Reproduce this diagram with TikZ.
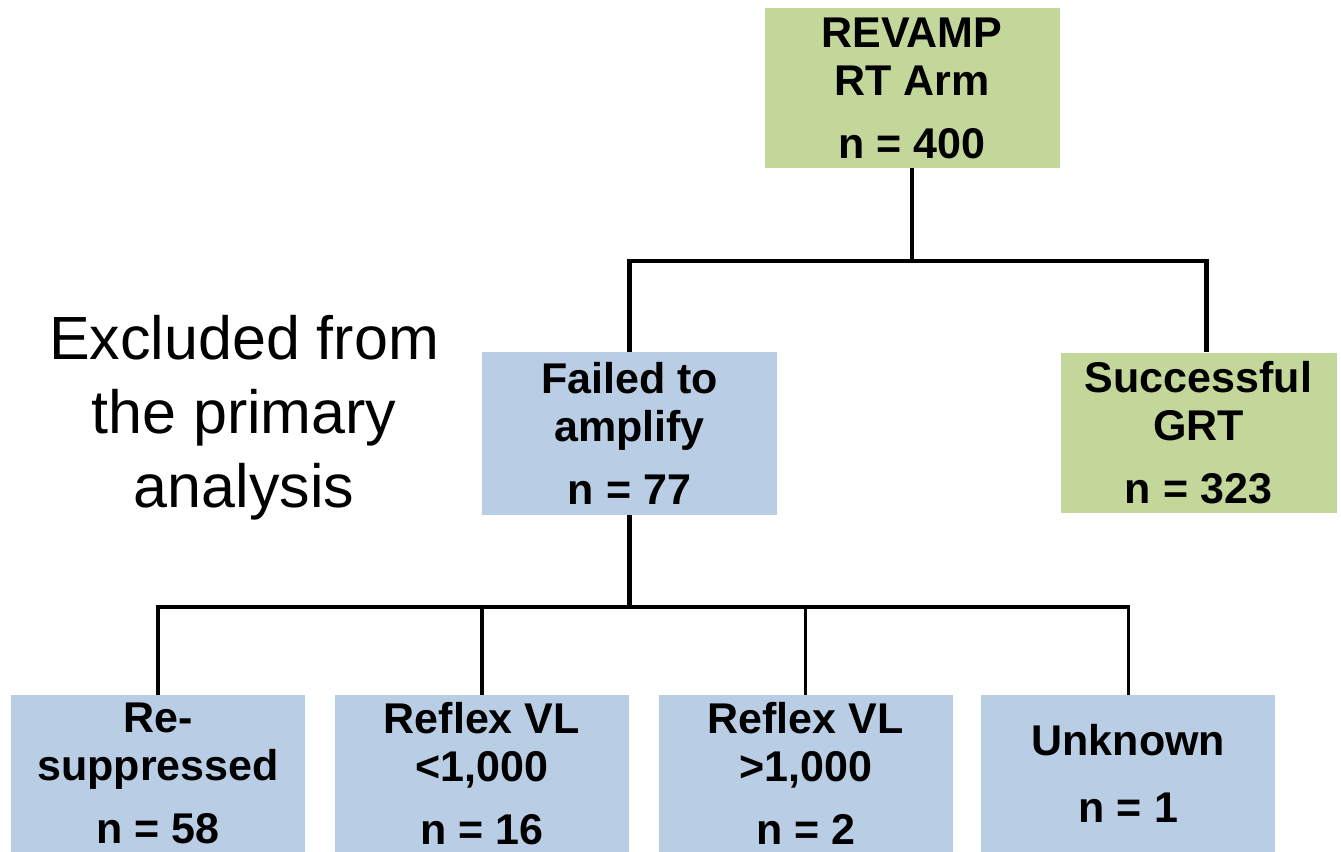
\documentclass[tikz,border=0pt]{standalone}
\usepackage{fontspec}
\setmainfont{Liberation Sans}
\usepackage{xcolor}
\usepackage{tikz}
\usetikzlibrary{positioning}
\definecolor{armGreen}{HTML}{C4D79B}
\definecolor{armBlue}{HTML}{B9CDE5}

\begin{document}
\begin{tikzpicture}[x=0.5pt, y=-0.5pt,
    box/.style={inner sep=0pt, align=center, font=\fontsize{21.5}{24}\selectfont\bfseries, minimum width=147.5pt, minimum height=80pt},
    greenbox/.style={box, fill=armGreen},
    bluebox/.style={box, fill=armBlue},
    leafbox/.style={bluebox, minimum width=147pt, minimum height=78.5pt},
    link/.style={line width=2.25pt},
    sublink/.style={line width=1.75pt}]
                \useasboundingbox (0,0) rectangle (1341,852);
                % top level
                \node[greenbox] (revamp) at (912,88) {REVAMP\\RT Arm\\[7.5pt]n = 400};
                \node[bluebox, minimum height=81.5pt] (failed) at (629.5,433.5) {Failed to\\amplify\\[7.5pt]n = 77};
                \node[greenbox, minimum width=138pt] (grt) at (1198.5,432.5) {Successful\\GRT\\[7.5pt]n = 323};
                \node[align=center, font=\fontsize{30.5}{37}\selectfont] (excluded) at (244,418) {Excluded from\\the primary\\analysis};
                % outcomes of the failed samples
                \node[leafbox] (resup) at (158,773.5) {Re-\\suppressed\\[7.5pt]n = 58};
                \node[leafbox, right=14.5pt of resup] (lowvl) {Reflex VL\\<1,000\\[7.5pt]n = 16};
                \node[leafbox, right=14.5pt of lowvl] (highvl) {Reflex VL\\>1,000\\[7.5pt]n = 2};
                \node[leafbox, right=14pt of highvl] (unknown) {Unknown\\[9.5pt]n = 1};
                % tree lines
                \coordinate (split) at (912,261);
                \coordinate (branch) at (629.5,607);
                \draw[link] (revamp.south) -- (split);
                \draw[link] (split) -| (failed.north);
                \draw[link] (split) -| ([xshift=4pt]grt.north);
                \draw[link] (failed.south) -- (branch);
                \draw[sublink] (branch) -| (resup.north);
                \draw[sublink] (branch) -| (lowvl.north);
                \draw[sublink] (branch) -| (highvl.north);
                \draw[sublink] (branch) -| (unknown.north);
            \end{tikzpicture}
\end{document}
